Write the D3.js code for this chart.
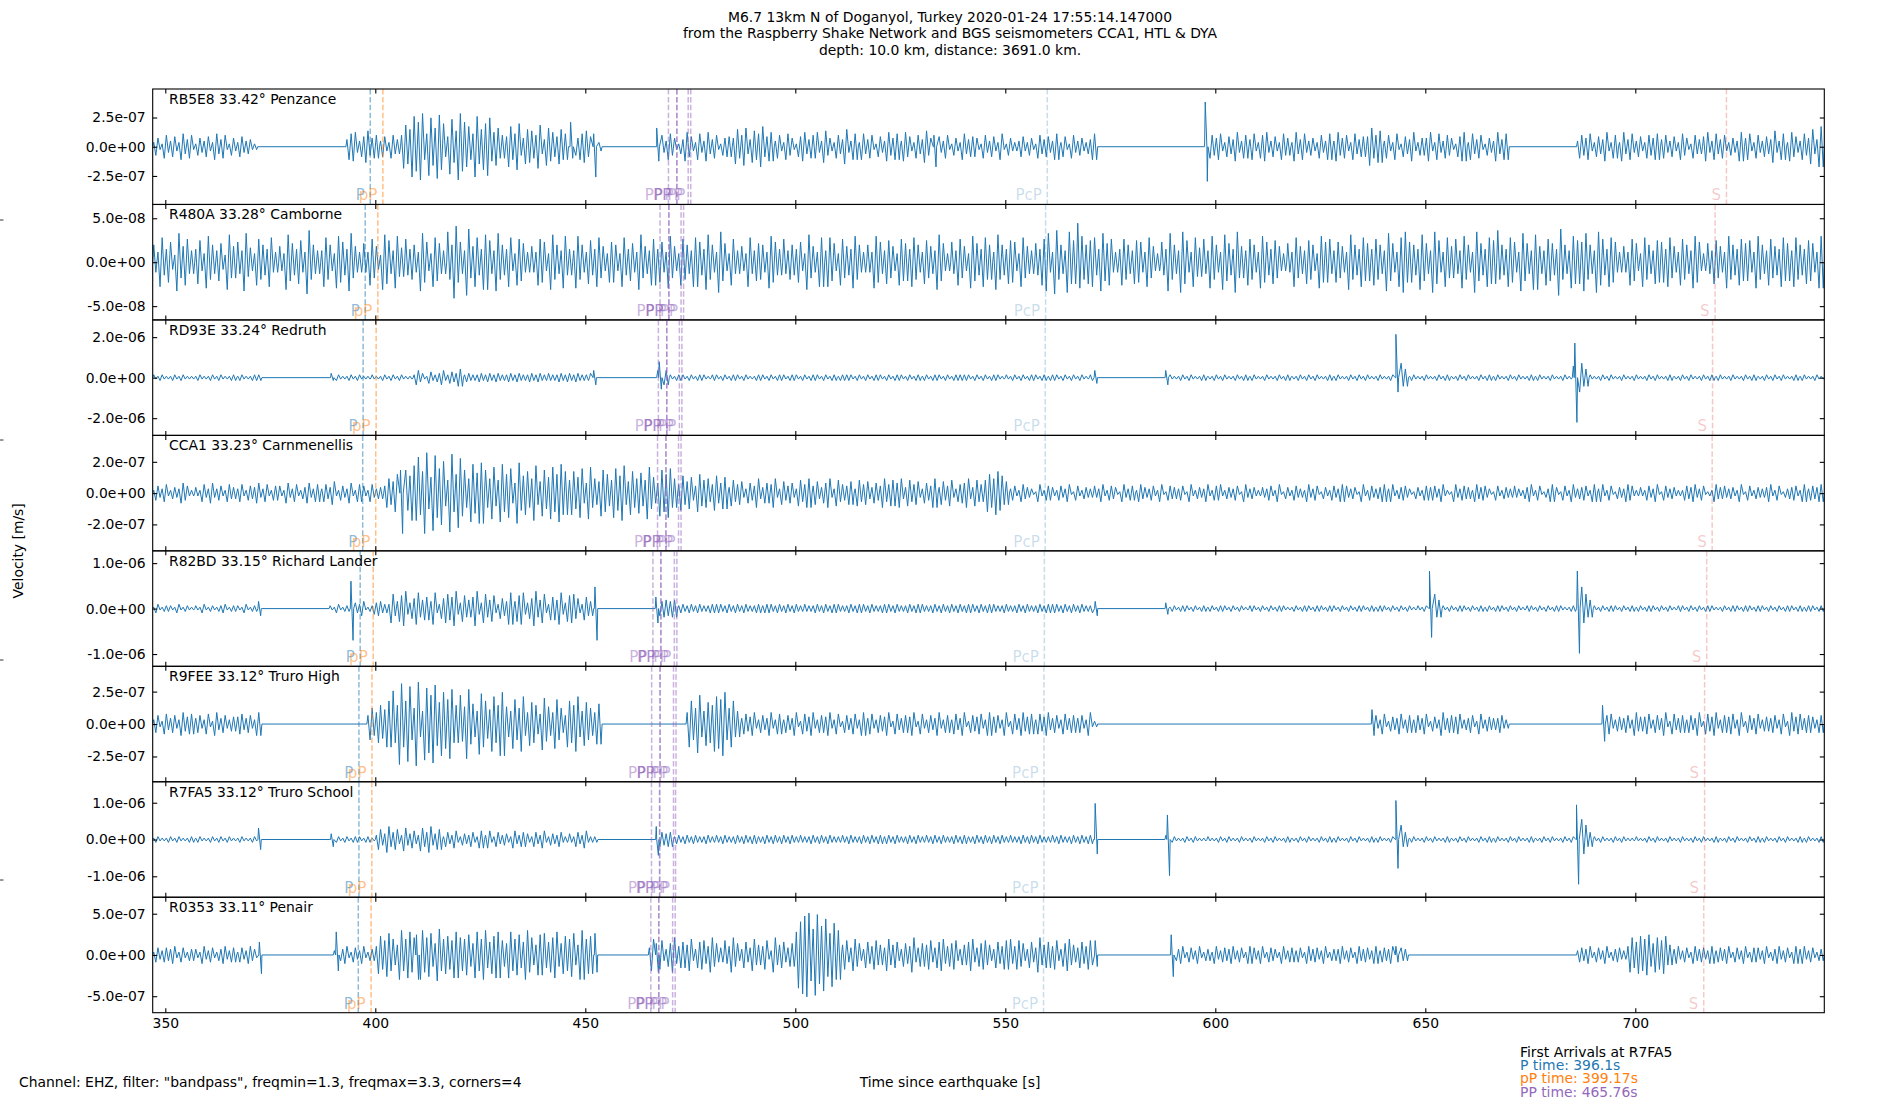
<!DOCTYPE html>
<html>
<head>
<meta charset="utf-8">
<script src="https://cdn.jsdelivr.net/npm/d3@7"></script>
<style>
  body { margin: 0; background: #fff; }
  svg { display: block; font-family: "DejaVu Sans", sans-serif; }
</style>
</head>
<body>
<svg id="chart" width="1900" height="1100"></svg>
<script>
// stations, top to bottom
const stations = ["RB5E8", "R480A", "RD93E", "CCA1", "R82BD", "R9FEE", "R7FA5", "R0353"];
const distances = [33.42, 33.28, 33.24, 33.23, 33.15, 33.12, 33.12, 33.11];
const places = ["Penzance", "Camborne", "Redruth", "Carnmenellis", "Richard Lander", "Truro High", "Truro School", "Penair"];

// y axis limit (m/s) and tick step of each panel
const yLimits = [4.94e-7, 6.57e-8, 2.85e-6, 3.69e-7, 1.27e-6, 4.45e-7, 1.57e-6, 7.0e-7];
const yTickSteps = [2.5e-7, 5e-8, 2e-6, 2e-7, 1e-6, 2.5e-7, 1e-6, 5e-7];

const timeRange = [347, 745];
const xTicks = [350, 400, 450, 500, 550, 600, 650, 700];

// phase arrival times (s) per panel
const pTimes = [398.8, 397.6, 397.1, 397.0, 396.4, 396.1, 396.1, 395.95];
const pPTimes = [401.8, 400.6, 400.2, 400.1, 399.5, 399.2, 399.17, 399.0];
const ppTimes = [
  [469.8, 471.8, 471.8, 474.5, 475.1],
  [467.8, 469.9, 469.9, 472.8, 473.4],
  [467.4, 469.4, 469.4, 472.4, 473.0],
  [467.2, 469.2, 469.2, 472.2, 472.8],
  [466.1, 468.0, 468.0, 471.2, 471.8],
  [465.8, 467.8, 467.8, 471.0, 471.6],
  [465.76, 467.7, 467.7, 471.0, 471.5],
  [465.6, 467.5, 467.5, 470.8, 471.4]
];
const pcpTimes = [560.0, 559.6, 559.5, 559.5, 559.3, 559.2, 559.2, 559.1];
const sTimes = [721.7, 719.0, 718.4, 718.3, 717.0, 716.5, 716.5, 716.3];

// waveform envelopes: [start second, one base-36 code per second],
// each code is the peak amplitude in 1/40 of the panel's y limit; gaps are flat
const waveRB5E8 = [
  [347, "3628473958264739582637452"],
  [393, "59a47b68"], [401, "47385"], [406, "8fclhn9kdmg7jbnhe9lcgkad8"], [431, "7e9g6cb8f5da7c9"], [446, "5a69b753"],
  [467, "3849625a7394a58267"], [485, "6c8d5b9e7a"], [495, "4839627a58"], [505, "a4b6385c49"], [515, "3958274a69"], [525, "4a7385b6"],
  [533, "3748263957"], [543, "6284739263"], [553, "4736285749"], [563, "372846359"],
  [598, "4869375a48"], [608, "5938a47396"], [618, "3a59463849"], [628, "4a683957"], [636, "7d8b"],
  [640, "4839275a36"], [650, "6a3948627a"], [660, "3958264a59"],
  [686, "4869375a38"], [696, "3a59473869"], [706, "5847396285"], [716, "7a4958364a"], [726, "6938475b49"], [736, "3a7496c5e"]
];
const spikeRB5E8 = [[446.5, 17, 8], [452, 9, 21], [467, 13, 10], [533, 8, 14], [597.6, 31, 24]];

const waveR480A = [
  [347, "c7h9e5kbg8"], [357, "9f6ic8d5jb"], [367, "e8ka6gc9h7"], [377, "b6jd9f7mc8"], [387, "8hc6ie9kb7"],
  [397, "d7gb5jf8ia"], [407, "g9c7ke6hd8"], [417, "lcpe8nbh9j"], [427, "f8kc9h6gd7"], [437, "b7ge6jc8i9"],
  [447, "8ic7f9hb6e"], [457, "c6h9d7jb8g"], [467, "9e7ib6gc8h"], [477, "e9jc7ld6g8"], [487, "b6h8dc7ie9"],
  [497, "g8c9e6jb7h"], [507, "8hd6gb9ic7"], [517, "c7ie8fb6gd"], [527, "9hc7fb8jd6"], [537, "e8gb6id9hc"],
  [547, "7jc9fe6hb8"], [557, "d9gk7mc8lf"], [567, "ricfh9kdg7"], [577, "9gc8fe7hb6"], [587, "e9kc8lf7ha"],
  [597, "g8ic7jd9lb"], [607, "8gc7ie9fb6"], [617, "d7hb8fc6ie"], [627, "g8eb7jc9hd"], [637, "9gc8kd7hle"],
  [647, "c9jd8lf7hb"], [657, "g8ic7ld9hf"], [667, "mc9he7kd8j"], [677, "b8gd9nc8if"], [687, "ekc8lg9he7"],
  [697, "b7gd6hc8fe"], [707, "9hb7gc8ie6"], [717, "d8fb7ic9gd"], [727, "f7ic8gb9hd"], [737, "8hc9fd7i"]
];
const spikeR480A = [];

const waveRD93E = [
  [347, "2121121211"], [357, "1211212112"], [367, "121122"],
  [389, "2121121211"], [399, "2112121211"], [409, "253142352436"], [421, "2322323232"], [431, "2323223232"], [441, "3223232322"], [451, "33"],
  [467, "545"], [470, "2122121221"], [480, "2212122121"], [490, "1221212212"], [500, "2121221212"], [510, "1222121212"],
  [520, "2121221212"], [530, "1212212122"], [540, "2212121221"], [550, "2121212212"], [560, "1221212121"], [570, "22"],
  [588, "1211212112"], [598, "1121211212"], [608, "1211211212"], [618, "1121212112"], [628, "1211212121"], [638, "12112"],
  [643, "ca6"], [646, "1211211212"], [656, "1121211212"], [666, "1211212112"], [676, "121121121"], [685, "8fa6"],
  [689, "2112121121"], [699, "1211212112"], [709, "1121211212"], [719, "1211211212"], [729, "1121212112"], [739, "121121"]
];
const spikeRD93E = [[389.5, 3, 2], [452, 5, 5], [467.6, 11, 8], [571.3, 5, 4], [588.2, 5, 5], [643, 30, 10], [685.6, 24, 31]];

const waveCCA1 = [
  [347, "2536243752"], [357, "4263735264"], [367, "3625473625"], [377, "5273624736"], [387, "3648253726"], [397, "52634"],
  [402, "5a8dbgcj"], [410, "pfsbqhm9rdogakel"], [426, "gai9kdh7lcfaj8gbidkf"], [446, "9fbh7ia8gd9hcj8fae9ib7gdha"],
  [472, "6c8b5d9a6c7b"], [484, "4968375a47"], [494, "6a3857396a"], [504, "5847a39658"], [514, "3968475a69"],
  [524, "7a4968375a"], [534, "4859367a496"], [545, "9dafc8"],
  [551, "3526431625"], [561, "4253615243"], [571, "5362541635"], [581, "2643526154"], [591, "3516243625"],
  [601, "6243516342"], [611, "4352614253"], [621, "2635142536"], [631, "5341625346"], [641, "3624531425"],
  [651, "4536216354"], [661, "2645315243"], [671, "5324625136"], [681, "4152634526"], [691, "3625143652"],
  [701, "4253615342"], [711, "2546351264"], [721, "5342615243"], [731, "4625134526"], [741, "3546"]
];
const spikeCCA1 = [[406, 16, 28]];

const waveR82BD = [
  [347, "1312213121"], [357, "2131212312"], [367, "213122"],
  [389, "21312"], [394, "243512453"], [403, "3a59c47b68"], [413, "5b37a8c496"], [423, "8c4a69375b"], [433, "59b47c6a38"], [443, "6b49a7385"], [452, "4"],
  [467, "65656"], [472, "2323232233"], [482, "3232323223"], [492, "2332323232"], [502, "3223232332"], [512, "2323323223"],
  [522, "3232232332"], [532, "2323232323"], [542, "3232332232"], [552, "2323223233"], [562, "3232323223"],
  [588, "2121221212"], [598, "1212212121"], [608, "2212121221"], [618, "1212212212"], [628, "2121212212"], [638, "1221212121"], [648, "212"],
  [651, "ca6"], [654, "2121221212"], [664, "1212212121"], [674, "2212121221"], [684, "12"], [686, "8fa6"],
  [690, "2121221212"], [700, "1212212121"], [710, "2212121221"], [720, "1212212212"], [730, "2121212212"], [740, "12212"]
];
const spikeR82BD = [[372.2, 5, 5], [394.2, 19, 22], [452.3, 15, 22], [466.8, 8, 10], [571.4, 5, 5], [588.2, 4, 4], [651, 26, 20], [686.2, 26, 31]];

const waveR9FEE = [
  [347, "3627463857"], [357, "4637284635"], [367, "574638"],
  [398, "6b8dag"], [404, "ndsgqbt9pkrfmhod"], [420, "kcoe9lgajdm"], [431, "c9hbj8fd7ic8hb6gdj9fb8e"],
  [474, "8gbk9fdjhmbg9"], [487, "4758364837"], [497, "3648275836"], [507, "5837264738"], [517, "4736582746"],
  [527, "5827364836"], [537, "3748265738"], [547, "5638274857"], [557, "3758463746"], [567, "46382"],
  [637, "4637254736"], [647, "3647253846"], [657, "5734627354"], [667, "463"],
  [692, "9673546385"], [702, "5736482746"], [712, "3648275836"], [722, "5738264735"], [732, "4637285746"], [742, "536"]
];
const spikeR9FEE = [[637.3, 10, 8], [692.2, 13, 12]];

const waveR7FA5 = [
  [347, "1211212112"], [357, "1211212121"], [367, "121121"],
  [389, "2121212212"], [399, "1"], [400, "3749573846385947"], [416, "2536243526"], [426, "3625342635"], [436, "4253624352"], [446, "425362"], [452, "2"],
  [467, "4545"], [471, "2323232232"], [481, "3232232323"], [491, "2232323232"], [501, "3223232322"], [511, "3232232323"],
  [521, "2323223232"], [531, "3232322323"], [541, "2232323232"], [551, "3223232322"], [561, "3232232323"], [571, "2"],
  [588, "3121121211"], [598, "2112121121"], [608, "1211212112"], [618, "1121211212"], [628, "1211212112"], [638, "12112"],
  [643, "ca5"], [646, "1211212112"], [656, "1121211212"], [666, "1211212112"], [676, "1121211212"], [686, "8ea5"],
  [690, "2121121211"], [700, "2112121121"], [710, "1211212112"], [720, "1121211212"], [730, "1211212112"], [740, "12112"]
];
const spikeR7FA5 = [[372.2, 8, 7], [389.5, 4, 5], [466.9, 9, 11], [571.4, 25, 10], [588.6, 17, 25], [643, 27, 20], [686, 24, 31]];

const waveR0353 = [
  [347, "2535462524"], [357, "4263524635"], [367, "253642"],
  [390, "3546253624"], [400, "6dafb7hbgc"], [410, "9hcf8ibdag"], [420, "cbe8gbh9dg"], [430, "a8gbe9hc7e"], [440, "f9cg8dbf7h"], [450, "bd"], [452, "3"],
  [465, "5b7a48c69"], [474, "7b49a6c85"], [483, "a6c8495b7"], [492, "6a3c7958"], [500, "gnrtiskpfmh"],
  [511, "7a5b8496a7"], [521, "5b79486c58"], [531, "7a59b68a47"], [541, "9b58a7496a"], [551, "b6a8495c79"], [561, "6a48b7596a7"],
  [589, "3546253624"], [599, "2635463526"], [609, "5362542635"], [619, "3526453624"], [629, "4635264536"], [639, "3546254"],
  [686, "354625362453"], [698, "6c9dbe8cad7"], [709, "4635264536"], [719, "3546253625"], [729, "5362463526"], [739, "463524"]
];
const spikeR0353 = [[372.4, 9, 13], [390.7, 16, 11], [409.8, 14, 17], [452.3, 15, 12], [466.9, 8, 12], [571.4, 10, 8], [589.5, 14, 15], [643, 6, 5]];

const waves = [waveRB5E8, waveR480A, waveRD93E, waveCCA1, waveR82BD, waveR9FEE, waveR7FA5, waveR0353];
const spikes = [spikeRB5E8, spikeR480A, spikeRD93E, spikeCCA1, spikeR82BD, spikeR9FEE, spikeR7FA5, spikeR0353];

const titleLines = [
  "M6.7 13km N of Doganyol, Turkey 2020-01-24 17:55:14.147000",
  "from the Raspberry Shake Network and BGS seismometers CCA1, HTL & DYA",
  "depth: 10.0 km, distance: 3691.0 km."
];
const arrivalLines = ["First Arrivals at R7FA5", "P time: 396.1s", "pP time: 399.17s", "PP time: 465.76s"];

// ---------------------------------------------------------------
const FONT = "13.9px";
const svg = d3.select("#chart");
const defs = svg.append("defs");
const plot = { left: 152.7, right: 1824.3, top: 89, bottom: 1012.7 };
const panelH = (plot.bottom - plot.top) / stations.length;
const x = d3.scaleLinear().domain(timeRange).range([plot.left, plot.right]);

function sciLabel(v) {
  const [m, e] = v.toExponential(1).split("e");
  const n = +e;
  return m + "e" + (n < 0 ? "-" : "+") + String(Math.abs(n)).padStart(2, "0");
}

// turn the envelope codes into a zig-zag trace: up swing from this second's code,
// down swing from the next one
function tracePoints(chunks, spk) {
  const pts = [{ t: timeRange[0], v: 0, keep: true }];
  chunks.forEach(([t0, codes]) => {
    pts.push({ t: t0, v: 0, keep: true });
    const a = Array.from(codes, c => parseInt(c, 36));
    for (let i = 0; i < a.length; i++) {
      pts.push({ t: t0 + i + 0.25, v: a[i] });
      pts.push({ t: t0 + i + 0.75, v: -(i + 1 < a.length ? a[i + 1] : a[i]) });
    }
    pts.push({ t: t0 + a.length, v: 0, keep: true });
  });
  pts.push({ t: timeRange[1], v: 0, keep: true });
  const out = pts.filter(p => p.keep || !spk.some(s => p.t >= s[0] - 0.3 && p.t <= s[0] + 0.8));
  spk.forEach(s => {
    out.push({ t: s[0] - 0.15, v: 0 });
    out.push({ t: s[0], v: s[1] });
    out.push({ t: s[0] + 0.5, v: -s[2] });
    out.push({ t: s[0] + 0.65, v: 0 });
  });
  out.sort((a, b) => a.t - b.t);
  return out;
}

stations.forEach((st, i) => {
  const top = plot.top + i * panelH;
  const bottom = top + panelH;
  const lim = yLimits[i];
  const y = d3.scaleLinear().domain([-lim, lim]).range([bottom, top]);
  const g = svg.append("g");

  defs.append("clipPath").attr("id", "clip" + i)
    .append("rect")
    .attr("x", plot.left).attr("y", top)
    .attr("width", plot.right - plot.left).attr("height", panelH);

  const body = g.append("g").attr("clip-path", `url(#clip${i})`);

  // trace
  const line = d3.line().x(d => x(d.t)).y(d => y(d.v * lim / 40));
  body.append("path")
    .datum(tracePoints(waves[i], spikes[i]))
    .attr("d", line)
    .attr("fill", "none")
    .attr("stroke", "#1f77b4")
    .attr("stroke-width", 1)
    .attr("stroke-linejoin", "round");

  // phase arrivals
  const phases = [
    { name: "P", t: pTimes[i], color: "#1f77b4", alpha: 0.5 },
    { name: "pP", t: pPTimes[i], color: "#ff7f0e", alpha: 0.5 },
    ...ppTimes[i].map(t => ({ name: "PP", t: t, color: "#9467bd", alpha: 0.5 })),
    { name: "PcP", t: pcpTimes[i], color: "#1f77b4", alpha: 0.25 },
    { name: "S", t: sTimes[i], color: "#d62728", alpha: 0.25 }
  ];
  phases.forEach(p => {
    body.append("line")
      .attr("x1", x(p.t)).attr("x2", x(p.t))
      .attr("y1", top).attr("y2", bottom)
      .attr("stroke", p.color)
      .attr("stroke-opacity", p.alpha)
      .attr("stroke-width", 1.5)
      .attr("stroke-dasharray", "5.5,2.4");
    body.append("text")
      .attr("x", x(p.t) - 5.5)
      .attr("y", bottom - 4)
      .attr("text-anchor", "end")
      .style("font-size", "15px")
      .attr("fill", p.color)
      .attr("fill-opacity", p.alpha)
      .text(p.name);
  });

  // axes, ticks pointing inward on all sides
  const tv = [-yTickSteps[i], 0, yTickSteps[i]];
  const left = g.append("g").attr("transform", `translate(${plot.left},0)`)
    .call(d3.axisLeft(y).tickValues(tv).tickSizeInner(-4.5).tickSizeOuter(0).tickPadding(7).tickFormat(sciLabel));
  const right = g.append("g").attr("transform", `translate(${plot.right},0)`)
    .call(d3.axisRight(y).tickValues(tv).tickSizeInner(-4.5).tickSizeOuter(0).tickFormat(""));
  const topAx = g.append("g").attr("transform", `translate(0,${top})`)
    .call(d3.axisTop(x).tickValues(xTicks).tickSizeInner(-4.5).tickSizeOuter(0).tickFormat(""));
  const botAx = g.append("g").attr("transform", `translate(0,${bottom})`)
    .call(d3.axisBottom(x).tickValues(xTicks).tickSizeInner(-4.5).tickSizeOuter(0).tickPadding(5)
      .tickFormat(i === stations.length - 1 ? d3.format("d") : ""));
  [left, right, topAx, botAx].forEach(a => {
    a.select(".domain").remove();
    a.attr("font-family", null).attr("font-size", null);
    a.selectAll(".tick line").attr("stroke", "#000").attr("stroke-width", 1.1);
    a.selectAll("text").style("font-size", FONT).attr("fill", "#000");
  });

  // frame
  g.append("rect")
    .attr("x", plot.left).attr("y", top)
    .attr("width", plot.right - plot.left).attr("height", panelH)
    .attr("fill", "none").attr("stroke", "#000").attr("stroke-width", 1.1);

  // station label
  g.append("text")
    .attr("x", 169).attr("y", top + 15)
    .style("font-size", FONT)
    .attr("fill", "#000")
    .text(`${st} ${distances[i].toFixed(2)}° ${places[i]}`);
});

// title
svg.append("g").selectAll("text").data(titleLines).join("text")
  .attr("x", 950).attr("y", (d, k) => 22 + k * 16.4)
  .attr("text-anchor", "middle")
  .style("font-size", FONT)
  .text(d => d);

// y label
svg.append("text")
  .attr("transform", `translate(22.5,${(plot.top + plot.bottom) / 2}) rotate(-90)`)
  .attr("text-anchor", "middle")
  .style("font-size", FONT)
  .text("Velocity [m/s]");

// stray ticks of the figure-wide label axes
svg.append("g").selectAll("line").data([0.2, 0.4, 0.6, 0.8]).join("line")
  .attr("x1", 0).attr("x2", 3.5)
  .attr("y1", d => 1100 * (1 - d)).attr("y2", d => 1100 * (1 - d))
  .attr("stroke", "#000").attr("stroke-width", 0.8);

// x label and footer
svg.append("text")
  .attr("x", 950).attr("y", 1086.5)
  .attr("text-anchor", "middle")
  .style("font-size", FONT)
  .text("Time since earthquake [s]");

svg.append("text")
  .attr("x", 19).attr("y", 1086.5)
  .style("font-size", FONT)
  .text('Channel: EHZ, filter: "bandpass", freqmin=1.3, freqmax=3.3, corners=4');

const arrivalColors = ["#000", "#1f77b4", "#ff7f0e", "#9467bd"];
svg.append("g").selectAll("text").data(arrivalLines).join("text")
  .attr("x", 1520).attr("y", (d, k) => 1056.5 + k * 13.4)
  .style("font-size", FONT)
  .attr("fill", (d, k) => arrivalColors[k])
  .text(d => d);
</script>
</body>
</html>
